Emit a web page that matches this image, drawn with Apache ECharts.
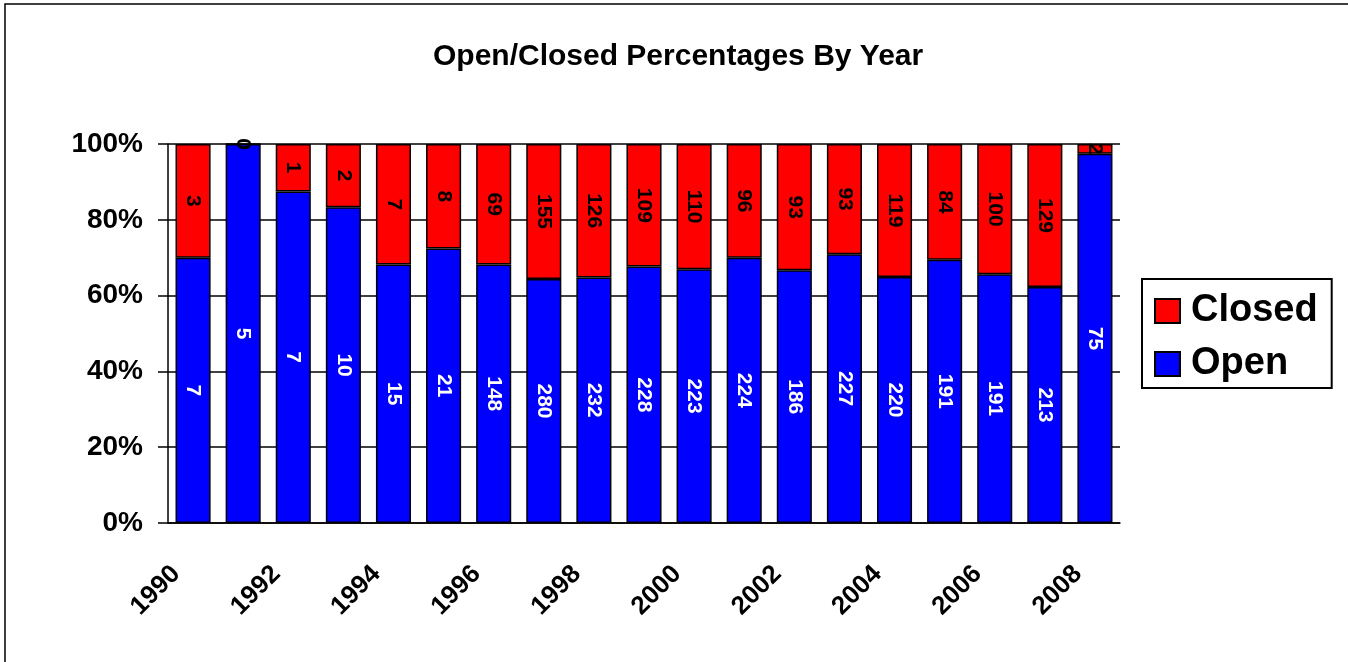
<!DOCTYPE html>
<html>
<head>
<meta charset="utf-8">
<script src="https://cdn.jsdelivr.net/npm/echarts@6/dist/echarts.min.js"></script>
<style>
  html, body { margin: 0; padding: 0; background: #fff; }
  #chart { width: 1348px; height: 662px; }
</style>
</head>
<body>
<div id="chart"></div>
<script>
var years = ['1990','1991','1992','1993','1994','1995','1996','1997','1998','1999',
             '2000','2001','2002','2003','2004','2005','2006','2007','2008'];
var openCounts   = [7, 5, 7, 10, 15, 21, 148, 280, 232, 228, 223, 224, 186, 227, 220, 191, 191, 213, 75];
var closedCounts = [3, 0, 1, 2, 7, 8, 69, 155, 126, 109, 110, 96, 93, 93, 119, 84, 100, 129, 2];
var yTicks = [0, 20, 40, 60, 80, 100];

var FONT = '"Liberation Sans", Arial, sans-serif';

// 100% stacked: share of each year's total
var openPct = openCounts.map(function (v, i) { return v / (v + closedCounts[i]) * 100; });
var closedPct = closedCounts.map(function (v, i) { return v / (openCounts[i] + v) * 100; });

var chart = echarts.init(document.getElementById('chart'));

var option = {
  backgroundColor: '#fff',
  animation: false,
  textStyle: { fontFamily: FONT },
  graphic: [{
    type: 'rect',
    shape: { x: 5, y: 4, width: 1400, height: 700 },
    style: { fill: 'none', stroke: '#000', lineWidth: 1.5 },
    silent: true
  }],
  title: {
    text: 'Open/Closed Percentages By Year',
    left: 433,
    top: 42,
    padding: 0,
    textStyle: { fontFamily: FONT, fontWeight: 'bold', fontSize: 30, color: '#000' }
  },
  legend: {
    data: ['Closed', 'Open'],
    orient: 'vertical',
    left: 1142,
    top: 279,
    padding: [13, 14, 5, 12],
    itemGap: 15,
    itemWidth: 25,
    itemHeight: 24,
    icon: 'rect',
    borderColor: '#000',
    borderWidth: 2,
    textStyle: { fontFamily: FONT, fontWeight: 'bold', fontSize: 38, color: '#000', padding: [0, 0, 0, 6] }
  },
  grid: { left: 168, right: 228, top: 144, bottom: 139 },
  xAxis: {
    type: 'category',
    data: years,
    boundaryGap: true,
    axisLine: { lineStyle: { color: '#000', width: 1.5 } },
    axisTick: { interval: 0, length: 10, lineStyle: { color: '#000', width: 1.5 } },
    axisLabel: {
      interval: 1,
      rotate: 45,
      margin: 30,
      padding: [0, 24, 0, 0],
      color: '#000',
      fontFamily: FONT,
      fontWeight: 'bold',
      fontSize: 26
    }
  },
  yAxis: {
    type: 'value',
    min: yTicks[0],
    max: yTicks[yTicks.length - 1],
    interval: 20,
    axisLine: { show: true, lineStyle: { color: '#000', width: 1.5 } },
    axisTick: { show: true, length: 10, lineStyle: { color: '#000', width: 1.5 } },
    splitLine: { show: true, lineStyle: { color: '#000', width: 1.5 } },
    axisLabel: {
      formatter: '{value}%',
      margin: 25,
      color: '#000',
      fontFamily: FONT,
      fontWeight: 'bold',
      fontSize: 28
    }
  },
  series: [{
    name: 'Open',
    type: 'bar',
    stack: 'total',
    barWidth: '70%',
    data: openPct,
    itemStyle: { color: '#0000ff', borderColor: '#000', borderWidth: 1.5 },
    label: {
      show: true,
      position: 'inside',
      rotate: -90,
      color: '#fff',
      fontFamily: FONT,
      fontWeight: 'bold',
      fontSize: 21,
      formatter: function (p) { return String(openCounts[p.dataIndex]); }
    }
  }, {
    name: 'Closed',
    type: 'bar',
    stack: 'total',
    barWidth: '70%',
    data: closedPct,
    itemStyle: { color: '#ff0000', borderColor: '#000', borderWidth: 1.5 },
    label: {
      show: true,
      position: 'inside',
      rotate: -90,
      color: '#000',
      fontFamily: FONT,
      fontWeight: 'bold',
      fontSize: 21,
      formatter: function (p) { return String(closedCounts[p.dataIndex]); }
    }
  }]
};

chart.setOption(option);
</script>
</body>
</html>
